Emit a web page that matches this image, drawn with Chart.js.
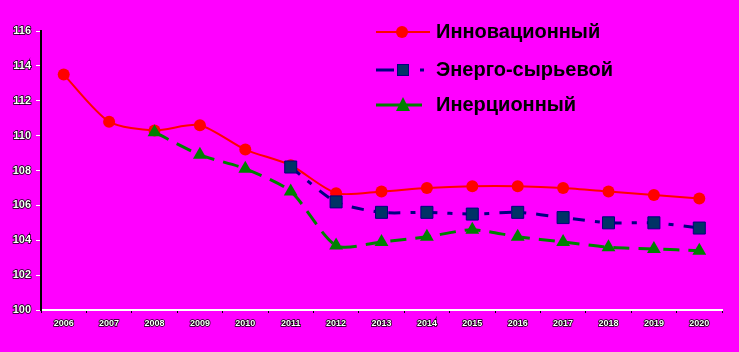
<!DOCTYPE html>
<html><head><meta charset="utf-8">
<script src="https://cdn.jsdelivr.net/npm/chart.js@4"></script>
<style>html,body{margin:0;padding:0;background:#FF00FF;}#w{position:relative;width:739px;height:352px;}</style>
</head><body><div id="w"><canvas id="c" width="739" height="352"></canvas></div>
<script>
const categories = ['2006','2007','2008','2009','2010','2011','2012','2013','2014','2015','2016','2017','2018','2019','2020'];
const seriesNames = ['Инновационный','Энерго-сырьевой','Инерционный'];
const innov = [113.5,110.8,110.3,110.6,109.2,108.3,106.7,106.8,107.0,107.1,107.1,107.0,106.8,106.6,106.4];
const energy = [null,null,null,null,null,108.2,106.2,105.6,105.6,105.5,105.6,105.3,105.0,105.0,104.7];
const inert = [null,null,110.2,108.9,108.1,106.8,103.7,103.9,104.2,104.6,104.2,103.9,103.6,103.5,103.4];
const yTicks = [100,102,104,106,108,110,112,114,116];

const legendPlugin = {
  id:'customLegend',
  afterDraw(chart){
    const ctx = chart.ctx;
    ctx.save();
    const rows = [
      {y:32, name:seriesNames[0]},
      {y:70, name:seriesNames[1]},
      {y:105, name:seriesNames[2]}
    ];
    // red
    ctx.strokeStyle='#FF0000'; ctx.lineWidth=2;
    ctx.beginPath(); ctx.moveTo(376,32); ctx.lineTo(430,32); ctx.stroke();
    ctx.fillStyle='#FF0000'; ctx.beginPath(); ctx.arc(402,32,6,0,Math.PI*2); ctx.fill();
    // blue
    ctx.strokeStyle='#000080'; ctx.lineWidth=3;
    ctx.beginPath(); ctx.moveTo(376,70); ctx.lineTo(394,70); ctx.stroke();
    ctx.beginPath(); ctx.moveTo(420,70); ctx.lineTo(424,70); ctx.stroke();
    ctx.fillStyle='#003366'; ctx.fillRect(397,64,12,12);
    ctx.strokeStyle='#000080'; ctx.lineWidth=1; ctx.strokeRect(397.5,64.5,11,11);
    // green
    ctx.strokeStyle='#008000'; ctx.lineWidth=3;
    ctx.beginPath(); ctx.moveTo(376,105); ctx.lineTo(422,105); ctx.stroke();
    ctx.fillStyle='#008000'; ctx.beginPath(); ctx.moveTo(403,97); ctx.lineTo(410,111); ctx.lineTo(396,111); ctx.closePath(); ctx.fill();
    ctx.fillStyle='#000'; ctx.font='bold 20px "Liberation Sans", Arial, sans-serif';
    ctx.textBaseline='middle'; ctx.textAlign='left';
    rows.forEach(r=>ctx.fillText(r.name,436,r.y));
    ctx.restore();
  }
};

new Chart(document.getElementById('c'), {
  type:'line',
  data:{
    labels:categories,
    datasets:[
      {label:seriesNames[0], data:innov, borderColor:'#FF0000', backgroundColor:'#FF0000', borderWidth:2, pointStyle:'circle', pointRadius:6, pointBorderWidth:0, tension:0.25, order:3},
      {label:seriesNames[1], data:energy, borderColor:'#000080', backgroundColor:'#003366', pointBorderColor:'#000080', borderWidth:3, borderDash:[12,10,5,10], pointStyle:'rect', pointRadius:8.5, pointBorderWidth:1, tension:0.25, order:2},
      {label:seriesNames[2], data:inert, borderColor:'#008000', backgroundColor:'#008000', borderWidth:3, borderDash:[16,9], pointStyle:'triangle', pointRadius:8, pointBorderWidth:0, tension:0.25, order:1}
    ]
  },
  options:{
    responsive:false, animation:false,
    layout:{padding:{left:0,right:17,top:31,bottom:0}},
    plugins:{legend:{display:false}, tooltip:{enabled:false}},
    scales:{
      x:{
        offset:true,
        grid:{display:true, drawOnChartArea:false, drawTicks:true, tickLength:3, color:'#000', offset:true},
        border:{display:true, color:'#FFFFFF', width:2},
        ticks:{color:'#FFFFFF', textStrokeColor:'#000', textStrokeWidth:1.5, font:{family:'"Liberation Sans", Arial', size:9, weight:'bold'}, padding:5, maxRotation:0, autoSkip:false},
        afterFit(s){ s.height = 42; }
      },
      y:{
        min:100, max:116,
        afterBuildTicks(s){ s.ticks = yTicks.map(v=>({value:v})); },
        grid:{display:true, drawOnChartArea:false, drawTicks:true, tickLength:5, color:'#FFFFFF'},
        border:{display:true, color:'#000', width:2},
        ticks:{color:'#FFFFFF', textStrokeColor:'#000', textStrokeWidth:1.5, font:{family:'"Liberation Sans", Arial', size:11, weight:'bold'}, padding:5},
        afterFit(s){ s.width = 41; }
      }
    }
  },
  plugins:[legendPlugin]
});
</script></body></html>
